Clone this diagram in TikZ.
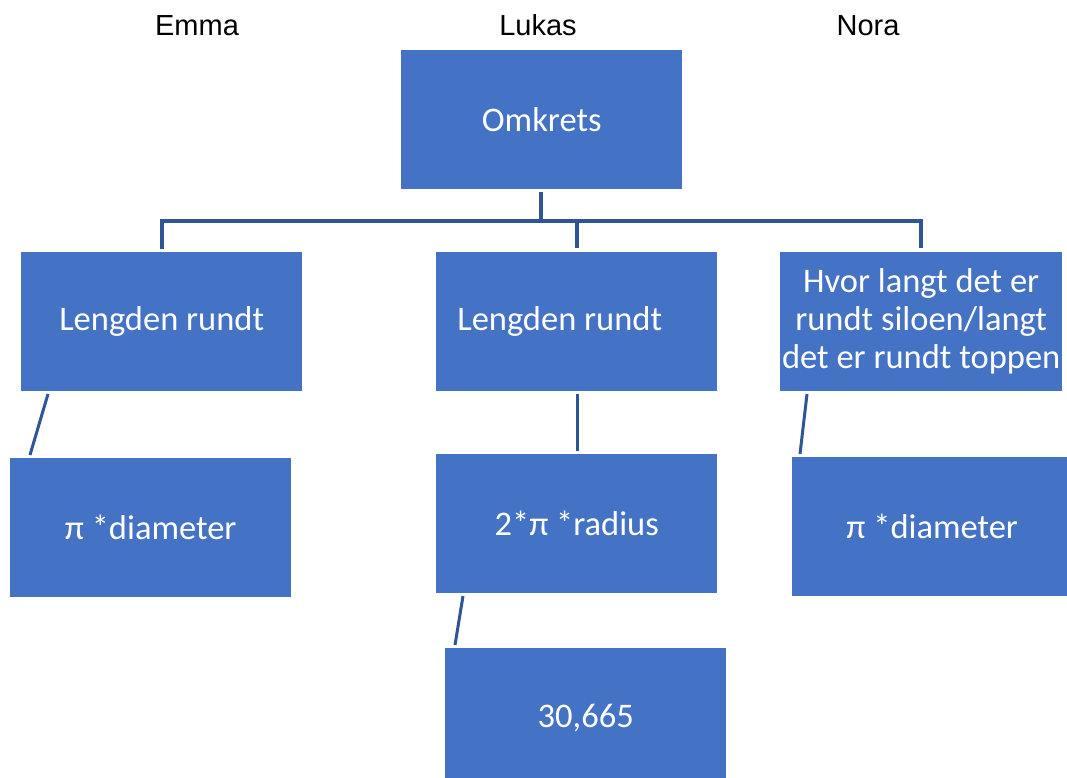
\documentclass[tikz,border=0pt]{standalone}
\usepackage{fontspec}
\setmainfont{Carlito}
\newfontfamily\namefont{Liberation Sans}
\definecolor{boxblue}{RGB}{68,114,196}
\definecolor{linkblue}{RGB}{47,85,151}
\begin{document}
\begin{tikzpicture}[x=1pt,y=-1pt,
  box/.style={draw=none,fill=boxblue,text=white,anchor=north west,
    inner sep=0pt,align=center,font=\fontsize{34.5}{38}\selectfont},
  person/.style={font=\namefont\fontsize{29}{34}\selectfont,text=black,
    inner sep=0pt,anchor=base},
  link/.style={draw=linkblue,line width=3.2pt}]
\useasboundingbox[fill=white] (0,0) rectangle (1067,778);

% people
\node[person] (emma)  at (197,36) {Emma};
\node[person] (lukas) at (538,36) {Lukas};
\node[person] (nora)  at (868,36) {Nora};

% boxes
\node[box,minimum width=281pt,minimum height=139pt] (om) at (401,50) {Omkrets};
\node[box,minimum width=281pt,minimum height=139pt] (l1) at (21,252) {Lengden rundt};
\node[box,minimum width=281pt,minimum height=139pt] (m1) at (436,252) {\hspace*{-34pt}Lengden rundt};
\node[box,minimum width=282pt,minimum height=139pt] (r1) at (780,252) {Hvor langt det er\\rundt siloen/langt\\det er rundt toppen};
\node[box,minimum width=281pt,minimum height=139pt] (l2) at (10,458) {π *diameter};
\node[box,minimum width=281pt,minimum height=139pt] (m2) at (436,454) {2*π *radius};
\node[box,minimum width=280pt,minimum height=139pt] (r2) at (792,457) {π *diameter};
\node[box,minimum width=281pt,minimum height=140pt] (m3) at (445,648) {30,665};

% tree connectors under the top box
\coordinate (bus) at (541,221);
\coordinate (busl) at (162,221);
\coordinate (busm) at (577,221);
\coordinate (busr) at (921,221);
\draw[link] ([yshift=-3pt]om.south -| bus) -- (bus);
\draw[link] (busl |- l1.north) ++(0,-3) -- (busl) -- (busr) -- ++(0,27);
\draw[link] (busm) -- ++(0,27);

% connectors to the lower boxes
\coordinate (a1) at (48,394);   \coordinate (a2) at (30,455);
\coordinate (b1) at (577,394);  \coordinate (b2) at (577,451);
\coordinate (c1) at (807,394);  \coordinate (c2) at (800,454);
\coordinate (d1) at (463,596);  \coordinate (d2) at (455,645);
\draw[link,line width=3pt] (a1) -- (a2);
\draw[link,line width=3pt] (b1) -- (b2);
\draw[link,line width=3pt] (c1) -- (c2);
\draw[link,line width=3pt] (d1) -- (d2);
\end{tikzpicture}
\end{document}
